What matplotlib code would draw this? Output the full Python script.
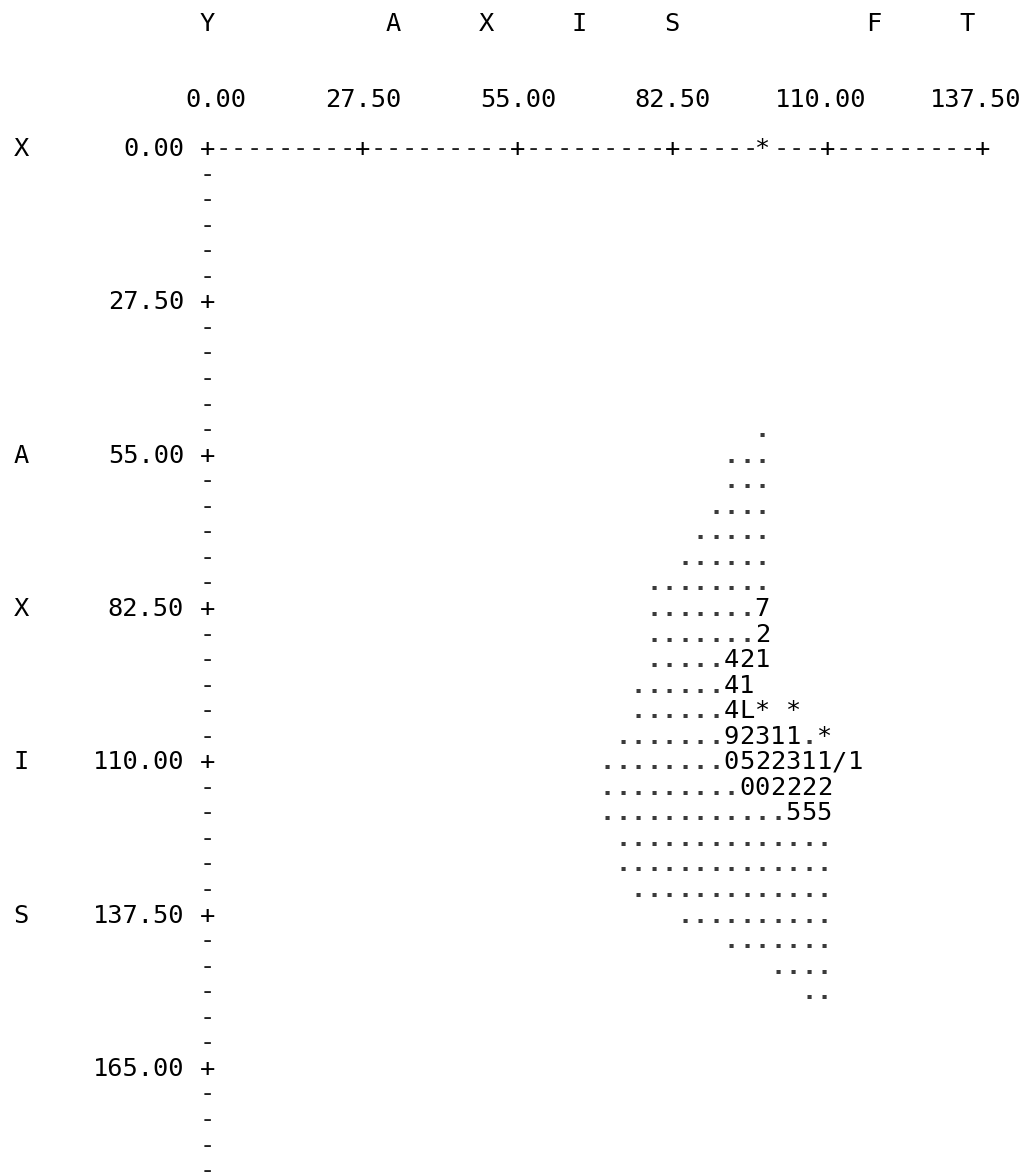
import matplotlib
matplotlib.use("Agg")
import matplotlib.pyplot as plt
import matplotlib.transforms as mtransforms

# ---------------- data ----------------
x_ticks = [0.00, 27.50, 55.00, 82.50, 110.00, 137.50]
y_ticks = [0.00, 27.50, 55.00, 82.50, 110.00, 137.50, 165.00]
x_tick_labels = ["0.00", "27.50", "55.00", "82.50", "110.00", "137.50"]
y_tick_labels = ["0.00", "27.50", "55.00", "82.50", "110.00", "137.50", "165.00"]

# plotted symbol rows: y value, x of first symbol, symbols (one per print column)
row_y = [0.00, 50.42, 55.00, 59.58, 64.17, 68.75, 73.33, 77.92, 82.50, 87.08,
         91.67, 96.25, 100.83, 105.42, 110.00, 114.58, 119.17, 123.75, 128.33,
         132.92, 137.50, 142.08, 146.67, 151.25]
row_x0 = [99.00, 99.00, 93.50, 93.50, 90.75, 88.00, 85.25, 79.75, 79.75, 79.75,
          79.75, 77.00, 77.00, 74.25, 71.50, 71.50, 71.50, 74.25, 74.25,
          77.00, 85.25, 93.50, 101.75, 107.25]
row_symbols = ["*", ".", "...", "...", "....", ".....", "......", "........",
               ".......7", ".......2", ".....421", "......41", "......4L* *",
               ".......92311.*", "........0522311/1", ".........002222",
               "............555", "..............", "..............",
               ".............", "..........", ".......", "....", ".."]

# axis titles (printed letters)
top_title_letters = ["Y", "A", "X", "I", "S", "F", "T"]
top_title_x = [0.0, 33.0, 49.5, 66.0, 82.5, 118.25, 134.75]
left_title_letters = ["X", "A", "X", "I", "S"]
left_title_y = [0.00, 55.00, 82.50, 110.00, 137.50]

# print grid resolution (one character cell)
x_step = 2.75
y_step = 27.5 / 6
n_axis_rows = 40

# ---------------- figure ----------------
W, H, DPI = 1029, 1175, 100
fig = plt.figure(figsize=(W / DPI, H / DPI), dpi=DPI)
fig.patch.set_facecolor("white")
ax = fig.add_axes([0, 0, 1, 1])
ax.set_axis_off()

col_px = 15.5
row_px = 25.55
x0_px, y0_px = 207.3, 146.7
ax.set_xlim(-x0_px / col_px * x_step, (W - x0_px) / col_px * x_step)
ax.set_ylim((H - y0_px) / row_px * y_step, -y0_px / row_px * y_step)

FS = 18.3
FAM = "DejaVu Sans Mono"
base_tr = mtransforms.offset_copy(ax.transData, fig=fig, x=0, y=-9.4, units="dots")
plot_tr = mtransforms.offset_copy(ax.transData, fig=fig, x=-3, y=-9.4, units="dots")


def put(x, y, s, tr=base_tr, ha="center", color="black", weight="normal"):
    ax.text(x, y, s, transform=tr, ha=ha, va="baseline", fontsize=FS,
            family=FAM, color=color, fontweight=weight)


# occupied cells by data symbols
occupied = set()
for y, x0, sym in zip(row_y, row_x0, row_symbols):
    for i, ch in enumerate(sym):
        if ch != " ":
            occupied.add((round((x0 + i * x_step) / x_step), round(y / y_step)))

# top axis line
n_cols = int(round(x_ticks[-1] / x_step))
for c in range(n_cols + 1):
    if (c, 0) in occupied:
        continue
    ch = "+" if c % 10 == 0 else "-"
    put(c * x_step, 0.0, ch, color="#222222" if ch == "-" else "black")

# left axis line
for r in range(1, n_axis_rows + 1):
    ch = "+" if r % 6 == 0 else "-"
    put(0.0, r * y_step, ch, color="#222222" if ch == "-" else "black")

# tick labels
for v, lab in zip(x_ticks, x_tick_labels):
    put(v + 2.5 * x_step, -1.93 * y_step, lab, ha="right")
for v, lab in zip(y_ticks, y_tick_labels):
    put(-1.5 * x_step, v, lab, ha="right")

# axis titles
for ch, x in zip(top_title_letters, top_title_x):
    put(x, -4.88 * y_step, ch)
for ch, y in zip(left_title_letters, left_title_y):
    put(-12 * x_step, y, ch)

# data symbols
for y, x0, sym in zip(row_y, row_x0, row_symbols):
    for i, ch in enumerate(sym):
        if ch == " ":
            continue
        if ch == ".":
            put(x0 + i * x_step, y, ch, tr=plot_tr, color="#3a3a3a", weight="bold")
        else:
            put(x0 + i * x_step, y, ch, tr=plot_tr, color="black")

fig.savefig("out.png", dpi=DPI, facecolor="white")
